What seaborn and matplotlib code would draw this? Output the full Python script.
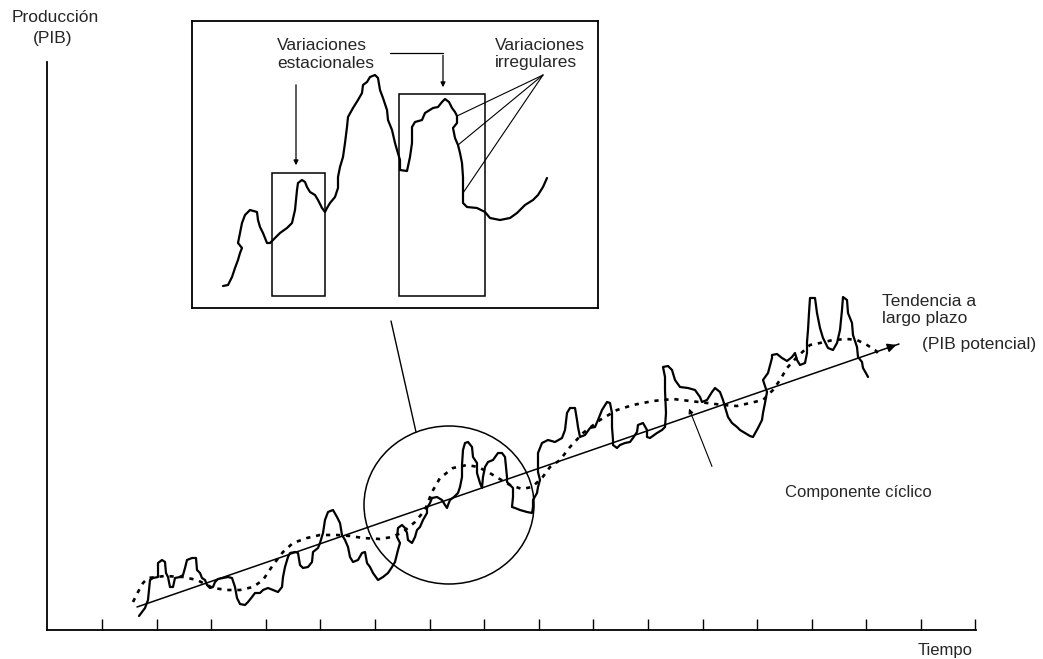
import numpy as np
import matplotlib
matplotlib.use("Agg")
import matplotlib.pyplot as plt
from matplotlib.patches import Ellipse, Rectangle
import seaborn as sns

sns.set_style("white")
plt.rcParams['font.family'] = ['Liberation Sans', 'DejaVu Sans']

# ---------------- data (schematic) ----------------
# main chart: time position and output level (height above the time axis)
pib_t = [139, 145, 148, 150, 153, 158, 158, 162, 165, 166, 168, 170, 173, 175, 180, 183, 185, 187,
         192, 196, 197, 200, 202, 205, 207, 210, 213, 215, 218, 223, 228, 232, 235, 237, 240, 245,
         248, 252, 255, 260, 263, 268, 273, 278, 282, 283, 285, 288, 290, 295, 298, 300, 303, 308,
         312, 313, 318, 320, 323, 325, 328, 333, 337, 340, 342, 345, 348, 350, 353, 358, 362, 365,
         367, 370, 373, 378, 383, 388, 392, 395, 398, 400, 397, 398, 402, 405, 407, 408, 412, 415,
         417, 420, 423, 427, 427, 430, 432, 437, 442, 445, 447, 448, 450, 454, 458, 460, 462, 462,
         463, 465, 468, 472, 473, 477, 477, 480, 482, 483, 485, 488, 493, 498, 502, 505, 506, 507,
         507, 510, 513, 513, 512, 515, 520, 527, 532, 533, 533, 537, 538, 540, 538, 538, 538, 542,
         548, 555, 562, 565, 567, 570, 575, 577, 578, 580, 585, 590, 595, 598, 602, 607, 610, 612,
         612, 613, 613, 617, 620, 625, 630, 633, 637, 638, 643, 647, 647, 650, 657, 662, 665, 666,
         665, 665, 663, 668, 672, 675, 680, 688, 695, 700, 702, 707, 712, 715, 720, 723, 725, 728,
         732, 737, 740, 745, 750, 753, 758, 762, 763, 765, 767, 763, 768, 772, 772, 777, 782, 787,
         792, 795, 797, 800, 805, 807, 807, 808, 809, 810, 815, 817, 820, 823, 828, 833, 837, 840,
         842, 843, 847, 848, 852, 853, 857, 858, 862, 863, 867, 868]
pib_y = [14, 22, 30, 50, 52, 53, 67, 70, 68, 57, 53, 43, 43, 52, 53, 55, 62, 70,
         72, 72, 60, 57, 52, 50, 45, 42, 43, 48, 51, 52, 53, 52, 43, 32, 26, 25,
         28, 33, 37, 37, 40, 42, 40, 38, 43, 53, 63, 73, 77, 78, 77, 65, 62, 63,
         68, 78, 82, 87, 97, 110, 118, 120, 113, 107, 95, 90, 83, 73, 68, 70, 77, 78,
         67, 63, 57, 50, 53, 57, 63, 68, 80, 87, 93, 102, 105, 102, 97, 90, 87, 93,
         100, 103, 110, 117, 122, 127, 132, 133, 130, 125, 122, 125, 130, 133, 137, 143, 153, 165,
         180, 187, 188, 183, 173, 167, 157, 147, 142, 153, 163, 168, 170, 177, 177, 173, 163, 153,
         148, 145, 142, 133, 123, 122, 120, 118, 117, 123, 130, 137, 143, 150, 158, 168, 177, 187,
         190, 188, 192, 200, 217, 222, 222, 210, 203, 193, 195, 202, 203, 210, 220, 228, 227, 217,
         203, 190, 185, 182, 185, 187, 188, 192, 198, 205, 207, 200, 193, 192, 197, 200, 203, 217,
         240, 253, 263, 264, 260, 250, 243, 242, 240, 233, 228, 230, 238, 242, 238, 230, 223, 213,
         207, 203, 200, 197, 194, 193, 202, 210, 217, 227, 238, 250, 257, 272, 275, 276, 272, 269,
         273, 277, 270, 265, 267, 277, 288, 300, 317, 332, 332, 317, 302, 292, 282, 280, 287, 300,
         320, 333, 330, 317, 307, 295, 283, 273, 268, 262, 255, 253]

# cyclical component (dotted)
ciclo_t = [133, 138, 143, 148, 165, 183, 197, 213, 227, 240, 253, 263, 273, 283, 293, 307, 320,
           337, 350, 363, 380, 392, 403, 415, 425, 432, 440, 453, 467, 478, 488, 498, 510, 522,
           532, 542, 550, 560, 570, 583, 600, 617, 633, 653, 673, 690, 707, 723, 737, 750, 763,
           773, 780, 787, 797, 810, 820, 833, 847, 857, 867, 875, 880]
ciclo_y = [28, 38, 47, 52, 54, 53, 50, 42, 40, 40, 43, 50, 65, 78, 87, 92, 95,
           95, 94, 92, 91, 93, 98, 108, 120, 138, 152, 162, 165, 163, 158, 152, 145, 141,
           143, 152, 163, 170, 183, 197, 210, 220, 225, 229, 231, 229, 227, 225, 224, 227, 230,
           240, 250, 262, 273, 285, 287, 290, 291, 290, 285, 280, 275]

# long-run trend (potential GDP)
tend_t = [137, 899]
tend_y = [23, 286]

# time axis ticks
tick_t = [102, 157, 211, 266, 320, 375, 430, 484, 539, 593, 648, 703, 757, 812, 866, 921, 975]

# inset: magnified series
zoom_t = [223, 228, 232, 235, 238, 240, 242, 238, 240, 242, 245, 250, 257, 258, 260, 263, 267,
          270, 275, 280, 287, 292, 295, 297, 298, 302, 305, 307, 310, 315, 318, 322, 325, 327,
          330, 335, 338, 338, 340, 343, 345, 347, 348, 353, 358, 362, 363, 367, 370, 375, 378,
          380, 383, 387, 388, 392, 395, 397, 400, 400, 407, 410, 412, 412, 415, 422, 425, 433,
          438, 442, 445, 449, 452, 455, 457, 457, 453, 455, 458, 460, 462, 463, 463, 463, 467,
          477, 485, 490, 500, 510, 517, 525, 533, 538, 543, 547]
zoom_y = [14, 15, 23, 32, 40, 47, 52, 57, 67, 77, 85, 90, 88, 80, 73, 67, 57,
          57, 62, 67, 72, 77, 90, 110, 117, 120, 118, 113, 108, 105, 100, 92, 88, 92,
          97, 103, 112, 123, 133, 143, 157, 173, 183, 192, 200, 207, 215, 218, 223, 225, 222,
          210, 202, 190, 180, 170, 157, 150, 140, 130, 129, 143, 157, 173, 178, 180, 187, 192,
          193, 198, 201, 198, 192, 188, 184, 177, 172, 162, 155, 147, 137, 123, 107, 97, 93,
          92, 88, 82, 80, 82, 87, 95, 100, 105, 113, 122]

# ---------------- figure ----------------
W, H = 1043, 659
fig = plt.figure(figsize=(W / 100, H / 100), dpi=100)
fig.patch.set_facecolor('white')

# main axes: x from px 47 to 976, y from py 630 (0) up to py 62 (568)
ax = fig.add_axes([47 / W, (H - 630) / H, (976 - 47) / W, (630 - 62) / H])
ax.set_xlim(47, 976)
ax.set_ylim(0, 568)
ax.set_facecolor('none')
for s in ['top', 'right']:
    ax.spines[s].set_visible(False)
for s in ['left', 'bottom']:
    ax.spines[s].set_linewidth(1.3)
    ax.spines[s].set_color('black')
ax.set_xticks(tick_t)
ax.set_xticklabels([])
ax.set_yticks([])
ax.tick_params(axis='x', direction='in', length=8, width=1.0, color='black', bottom=True)

# series
sns.lineplot(x=pib_t, y=pib_y, sort=False, estimator=None, color='black',
             linewidth=1.6, ax=ax)
sns.lineplot(x=ciclo_t, y=ciclo_y, sort=False, estimator=None, color='black',
             linewidth=1.9, linestyle=(0, (1.6, 2.2)), ax=ax)
sns.lineplot(x=tend_t, y=tend_y, sort=False, estimator=None, color='black',
             linewidth=1.1, ax=ax)
slope = (tend_y[1] - tend_y[0]) / (tend_t[1] - tend_t[0])
ax.annotate('', xy=(tend_t[1], tend_y[1]), xytext=(tend_t[1] - 14, tend_y[1] - 14 * slope),
            arrowprops=dict(arrowstyle='-|>', color='black', lw=1.1, mutation_scale=13))

# circle around the magnified region and link to the inset
ax.add_patch(Ellipse((449, 125), 170, 158, fill=False, edgecolor='black', lw=1.1))
ax.plot([391, 416], [309, 198], color='black', lw=1.0, clip_on=False)

# pointer to cyclical component
ax.annotate('', xy=(688, 224), xytext=(713, 161),
            arrowprops=dict(arrowstyle='-|>', color='black', lw=0.8, mutation_scale=7))

# labels
ax.text(882, 329, 'Tendencia a', fontsize=12.5, ha='left', va='center')
ax.text(882, 312, 'largo plazo', fontsize=12.5, ha='left', va='center')
ax.text(922, 286, '(PIB potencial)', fontsize=12.5, ha='left', va='center', clip_on=False)
ax.text(785, 138, 'Componente cíclico', fontsize=12, ha='left', va='center')
ax.text(945, -21, 'Tiempo', fontsize=12, ha='center', va='center', clip_on=False)
ax.text(55, 612, 'Producción', fontsize=12.5, ha='center', va='center', clip_on=False)
ax.text(53, 592, '(PIB)', fontsize=12.5, ha='center', va='center', clip_on=False)

# ---------------- inset ----------------
ins = fig.add_axes([192 / W, (H - 308) / H, (598 - 192) / W, (308 - 21) / H])
ins.set_xlim(192, 598)
ins.set_ylim(-8, 279)
ins.set_facecolor('white')
for s in ins.spines.values():
    s.set_linewidth(1.3)
    s.set_color('black')
ins.set_xticks([])
ins.set_yticks([])

sns.lineplot(x=zoom_t, y=zoom_y, sort=False, estimator=None, color='black',
             linewidth=1.6, ax=ins)
ins.add_patch(Rectangle((272, 4), 325 - 272, 127 - 4, fill=False, edgecolor='black', lw=1.1))
ins.add_patch(Rectangle((399, 4), 485 - 399, 206 - 4, fill=False, edgecolor='black', lw=1.1))

# seasonal arrows
ins.annotate('', xy=(296, 132), xytext=(296, 218),
             arrowprops=dict(arrowstyle='-|>', color='black', lw=0.9, mutation_scale=7))
ins.plot([390, 443], [247, 247], color='black', lw=0.9)
ins.annotate('', xy=(443, 210), xytext=(443, 247.5),
             arrowprops=dict(arrowstyle='-|>', color='black', lw=0.9, mutation_scale=7))

# irregular pointers
for ex, ey in [(457, 184), (458, 155), (463, 107)]:
    ins.plot([543, ex], [225, ey], color='black', lw=0.8)

ifs = 12.5
ins.text(277, 254, 'Variaciones', fontsize=ifs, ha='left', va='center')
ins.text(277, 237, 'estacionales', fontsize=ifs, ha='left', va='center')
ins.text(495, 254, 'Variaciones', fontsize=ifs, ha='left', va='center')
ins.text(495, 237, 'irregulares', fontsize=ifs, ha='left', va='center')

fig.savefig('out.png', dpi=100, facecolor='white')
